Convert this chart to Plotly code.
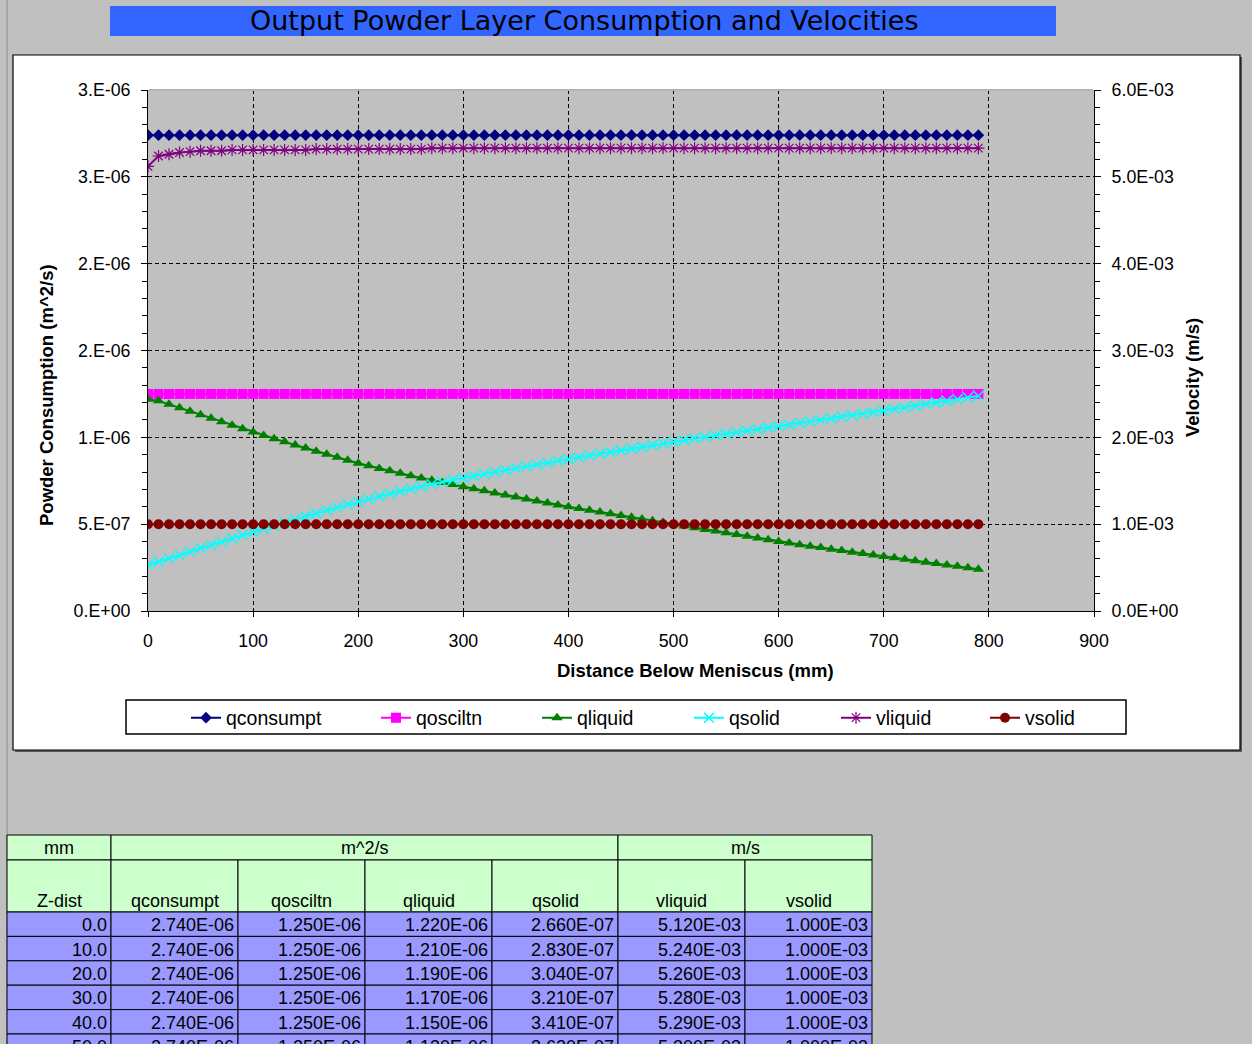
import plotly.graph_objects as go

# ---------------- data ----------------
z_dist = [0, 10, 20, 30, 40, 50, 60, 70, 80, 90,
          100, 110, 120, 130, 140, 150, 160, 170, 180, 190,
          200, 210, 220, 230, 240, 250, 260, 270, 280, 290,
          300, 310, 320, 330, 340, 350, 360, 370, 380, 390,
          400, 410, 420, 430, 440, 450, 460, 470, 480, 490,
          500, 510, 520, 530, 540, 550, 560, 570, 580, 590,
          600, 610, 620, 630, 640, 650, 660, 670, 680, 690,
          700, 710, 720, 730, 740, 750, 760, 770, 780, 790]

# values in units of 1e-6 m^2/s
qconsumpt_u = [2.74, 2.74, 2.74, 2.74, 2.74, 2.74, 2.74, 2.74, 2.74, 2.74,
               2.74, 2.74, 2.74, 2.74, 2.74, 2.74, 2.74, 2.74, 2.74, 2.74,
               2.74, 2.74, 2.74, 2.74, 2.74, 2.74, 2.74, 2.74, 2.74, 2.74,
               2.74, 2.74, 2.74, 2.74, 2.74, 2.74, 2.74, 2.74, 2.74, 2.74,
               2.74, 2.74, 2.74, 2.74, 2.74, 2.74, 2.74, 2.74, 2.74, 2.74,
               2.74, 2.74, 2.74, 2.74, 2.74, 2.74, 2.74, 2.74, 2.74, 2.74,
               2.74, 2.74, 2.74, 2.74, 2.74, 2.74, 2.74, 2.74, 2.74, 2.74,
               2.74, 2.74, 2.74, 2.74, 2.74, 2.74, 2.74, 2.74, 2.74, 2.74]
qosciltn_u = [1.25, 1.25, 1.25, 1.25, 1.25, 1.25, 1.25, 1.25, 1.25, 1.25,
              1.25, 1.25, 1.25, 1.25, 1.25, 1.25, 1.25, 1.25, 1.25, 1.25,
              1.25, 1.25, 1.25, 1.25, 1.25, 1.25, 1.25, 1.25, 1.25, 1.25,
              1.25, 1.25, 1.25, 1.25, 1.25, 1.25, 1.25, 1.25, 1.25, 1.25,
              1.25, 1.25, 1.25, 1.25, 1.25, 1.25, 1.25, 1.25, 1.25, 1.25,
              1.25, 1.25, 1.25, 1.25, 1.25, 1.25, 1.25, 1.25, 1.25, 1.25,
              1.25, 1.25, 1.25, 1.25, 1.25, 1.25, 1.25, 1.25, 1.25, 1.25,
              1.25, 1.25, 1.25, 1.25, 1.25, 1.25, 1.25, 1.25, 1.25, 1.25]
qliquid_u = [1.22, 1.21, 1.19, 1.17, 1.15, 1.13, 1.11, 1.09, 1.07, 1.05,
             1.03, 1.01, 0.992, 0.974, 0.956, 0.938, 0.920, 0.902, 0.885, 0.868,
             0.851, 0.836, 0.821, 0.807, 0.793, 0.779, 0.766, 0.753, 0.740, 0.728,
             0.716, 0.704, 0.692, 0.680, 0.668, 0.657, 0.645, 0.634, 0.622, 0.611,
             0.600, 0.590, 0.580, 0.570, 0.560, 0.550, 0.540, 0.530, 0.520, 0.510,
             0.500, 0.490, 0.480, 0.470, 0.460, 0.450, 0.440, 0.430, 0.420, 0.410,
             0.400, 0.391, 0.382, 0.373, 0.365, 0.356, 0.348, 0.339, 0.331, 0.322,
             0.314, 0.306, 0.298, 0.289, 0.281, 0.273, 0.265, 0.257, 0.249, 0.241]
qsolid_u = [0.266, 0.283, 0.304, 0.321, 0.341, 0.362, 0.380, 0.399, 0.418, 0.437,
            0.455, 0.474, 0.492, 0.510, 0.528, 0.545, 0.562, 0.579, 0.596, 0.613,
            0.629, 0.645, 0.660, 0.675, 0.690, 0.704, 0.717, 0.730, 0.743, 0.755,
            0.766, 0.778, 0.789, 0.800, 0.811, 0.822, 0.833, 0.844, 0.854, 0.865,
            0.875, 0.885, 0.895, 0.905, 0.915, 0.925, 0.935, 0.945, 0.955, 0.965,
            0.975, 0.984, 0.993, 1.002, 1.011, 1.020, 1.029, 1.038, 1.047, 1.056,
            1.064, 1.073, 1.082, 1.091, 1.100, 1.109, 1.118, 1.127, 1.136, 1.144,
            1.153, 1.163, 1.172, 1.182, 1.191, 1.200, 1.210, 1.219, 1.229, 1.238]
# values in units of 1e-3 m/s
vliquid_u = [5.12, 5.24, 5.26, 5.28, 5.29, 5.30, 5.30, 5.30, 5.31, 5.31,
             5.31, 5.31, 5.31, 5.31, 5.31, 5.31, 5.32, 5.32, 5.32, 5.32,
             5.32, 5.32, 5.32, 5.32, 5.32, 5.32, 5.32, 5.33, 5.33, 5.33,
             5.33, 5.33, 5.33, 5.33, 5.33, 5.33, 5.33, 5.33, 5.33, 5.33,
             5.33, 5.33, 5.33, 5.33, 5.33, 5.33, 5.33, 5.33, 5.33, 5.33,
             5.33, 5.33, 5.33, 5.33, 5.33, 5.33, 5.33, 5.33, 5.33, 5.33,
             5.33, 5.33, 5.33, 5.33, 5.33, 5.33, 5.33, 5.33, 5.33, 5.33,
             5.33, 5.33, 5.33, 5.33, 5.33, 5.33, 5.33, 5.33, 5.33, 5.33]
vsolid_u = [1.0, 1.0, 1.0, 1.0, 1.0, 1.0, 1.0, 1.0, 1.0, 1.0,
            1.0, 1.0, 1.0, 1.0, 1.0, 1.0, 1.0, 1.0, 1.0, 1.0,
            1.0, 1.0, 1.0, 1.0, 1.0, 1.0, 1.0, 1.0, 1.0, 1.0,
            1.0, 1.0, 1.0, 1.0, 1.0, 1.0, 1.0, 1.0, 1.0, 1.0,
            1.0, 1.0, 1.0, 1.0, 1.0, 1.0, 1.0, 1.0, 1.0, 1.0,
            1.0, 1.0, 1.0, 1.0, 1.0, 1.0, 1.0, 1.0, 1.0, 1.0,
            1.0, 1.0, 1.0, 1.0, 1.0, 1.0, 1.0, 1.0, 1.0, 1.0,
            1.0, 1.0, 1.0, 1.0, 1.0, 1.0, 1.0, 1.0, 1.0, 1.0]

qconsumpt = [v * 1e-6 for v in qconsumpt_u]
qosciltn = [v * 1e-6 for v in qosciltn_u]
qliquid = [v * 1e-6 for v in qliquid_u]
qsolid = [v * 1e-6 for v in qsolid_u]
vliquid = [v * 1e-3 for v in vliquid_u]
vsolid = [v * 1e-3 for v in vsolid_u]

x_tick_vals = [0, 100, 200, 300, 400, 500, 600, 700, 800, 900]
left_tick_vals = [0, 5e-7, 1e-6, 1.5e-6, 2e-6, 2.5e-6, 3e-6]
left_tick_text = ["0.E+00", "5.E-07", "1.E-06", "2.E-06", "2.E-06", "3.E-06", "3.E-06"]
right_tick_vals = [0, 1e-3, 2e-3, 3e-3, 4e-3, 5e-3, 6e-3]
right_tick_text = ["0.0E+00", "1.0E-03", "2.0E-03", "3.0E-03", "4.0E-03", "5.0E-03", "6.0E-03"]

series_names = ["qconsumpt", "qosciltn", "qliquid", "qsolid", "vliquid", "vsolid"]
table_unit_groups = ["mm", "m^2/s", "m/s"]
table_headers = ["Z-dist"] + series_names
table_rows_shown = 6

title_text = "Output Powder Layer Consumption and Velocities"
x_title = "Distance Below Meniscus (mm)"
y_title = "Powder Consumption (m^2/s)"
y2_title = "Velocity (m/s)"

# ---------------- layout helpers ----------------
W, H = 1252, 1044
def px(x):
    return x / W
def py(y):
    return 1 - y / H

FONT = "Liberation Sans, Arial, sans-serif"
SHEET = "#C0C0C0"

fig = go.Figure()

styles = [
    dict(color="#000080", symbol="diamond", size=9, axis="y", lw=0),
    dict(color="#FF00FF", symbol="square", size=10, axis="y", lw=0),
    dict(color="#008000", symbol="triangle-up", size=10, axis="y", lw=0),
    dict(color="#00FFFF", symbol="x-thin", size=10, axis="y", lw=1.5),
    dict(color="#800080", symbol="asterisk", size=10, axis="y2", lw=1.2),
    dict(color="#800000", symbol="circle", size=10, axis="y2", lw=0),
]
series_vals = [qconsumpt, qosciltn, qliquid, qsolid, vliquid, vsolid]
legend_x = [191, 381, 542, 694, 841, 990]

for i, (name, vals, st) in enumerate(zip(series_names, series_vals, styles)):
    mk = dict(symbol=st["symbol"], size=st["size"], color=st["color"])
    if st["lw"]:
        mk["line"] = dict(color=st["color"], width=st["lw"])
    else:
        mk["line"] = dict(width=0)
    fig.add_trace(go.Scatter(
        x=z_dist, y=vals, name=name, mode="lines+markers",
        line=dict(color=st["color"], width=2),
        marker=mk, yaxis=st["axis"], showlegend=True,
        legend="legend" if i == 0 else f"legend{i+1}",
    ))

shapes = []
annotations = []

def ann(text, x, y, font, xanchor="center", yanchor="middle", **kw):
    d = dict(text=text, xref="paper", yref="paper", x=px(x), y=py(y),
             xanchor=xanchor, yanchor=yanchor, showarrow=False, font=font)
    d.update(kw)
    annotations.append(d)

# white chart area (with a slight shadow edge)
shapes.append(dict(type="rect", xref="paper", yref="paper", layer="below",
                   x0=px(15), x1=px(1242), y0=py(752), y1=py(57),
                   fillcolor="#5a5a5a", line=dict(width=0)))
shapes.append(dict(type="rect", xref="paper", yref="paper", layer="below",
                   x0=px(13), x1=px(1240), y0=py(750), y1=py(55),
                   fillcolor="white", line=dict(color="black", width=1.2)))
# gray plot area
shapes.append(dict(type="rect", xref="paper", yref="paper", layer="below",
                   x0=px(148), x1=px(1094), y0=py(611), y1=py(90),
                   fillcolor=SHEET, line=dict(width=0)))
# hide the dashed grid line along the top edge of the plot area
shapes.append(dict(type="line", xref="paper", yref="paper", layer="above",
                   x0=px(149), x1=px(1093), y0=py(90), y1=py(90),
                   line=dict(color="#b4b4b4", width=2)))
# title bar
shapes.append(dict(type="rect", xref="paper", yref="paper", layer="below",
                   x0=px(110), x1=px(1056), y0=py(36), y1=py(6),
                   fillcolor="#3366FF", line=dict(width=0)))
ann(title_text, 584, 21, dict(family="DejaVu Sans, Verdana, sans-serif", size=27, color="black"))
# sheet left edge
shapes.append(dict(type="line", xref="paper", yref="paper", layer="below",
                   x0=px(7), x1=px(7), y0=0, y1=1, line=dict(color="#8a8a8a", width=1)))
# legend box
shapes.append(dict(type="rect", xref="paper", yref="paper", layer="below",
                   x0=px(126), x1=px(1126), y0=py(734), y1=py(700),
                   fillcolor="white", line=dict(color="black", width=1.5)))

# axis titles
tfont = dict(family=FONT, size=18.5, color="black")
ann(f"<b>{x_title}</b>", 695, 670, tfont)
ann(f"<b>{y_title}</b>", 46, 395, tfont, textangle=-90)
ann(f"<b>{y2_title}</b>", 1193, 378, tfont, textangle=-90)

# ---------------- table ----------------
col_edges = [7, 111, 238, 365, 492, 618, 745, 872]
h1_top, h1_bot, h2_bot = 835, 860, 912
row_h = 24.4
GREEN = "#CCFFCC"
BLUE = "#9999FF"
TFONT = dict(family=FONT, size=18, color="black")

def cell(x0, x1, y0, y1, fill):
    shapes.append(dict(type="rect", xref="paper", yref="paper", layer="above",
                       x0=px(x0), x1=px(x1), y0=py(y1), y1=py(y0),
                       fillcolor=fill, line=dict(color="black", width=1)))

group_spans = [(0, 1), (1, 5), (5, 7)]
for label, (a, b) in zip(table_unit_groups, group_spans):
    cell(col_edges[a], col_edges[b], h1_top, h1_bot, GREEN)
    ann(label, (col_edges[a] + col_edges[b]) / 2, 848, TFONT)
for j, label in enumerate(table_headers):
    cell(col_edges[j], col_edges[j + 1], h1_bot, h2_bot, GREEN)
    ann(label, (col_edges[j] + col_edges[j + 1]) / 2, 901, TFONT)

for r in range(table_rows_shown):
    y0 = h2_bot + r * row_h
    y1 = y0 + row_h
    values = [f"{z_dist[r]:.1f}"] + [f"{s[r]:.3E}" for s in series_vals]
    for j, txt in enumerate(values):
        cell(col_edges[j], col_edges[j + 1], y0, y1, BLUE)
        ann(txt, col_edges[j + 1] - 2, (y0 + y1) / 2 + 1, TFONT, xanchor="right")

# ---------------- axes ----------------
axis_font = dict(family=FONT, size=17.8, color="black")
grid_dash = "4px,3px"

layout = dict(
    width=W, height=H,
    margin=dict(l=0, r=0, t=0, b=0, autoexpand=False),
    paper_bgcolor=SHEET, plot_bgcolor="rgba(0,0,0,0)",
    font=dict(family=FONT, color="black"),
    showlegend=True,
    xaxis=dict(domain=[px(148), px(1094)], range=[0, 900],
               tickmode="array", tickvals=x_tick_vals,
               showgrid=True, gridcolor="black", gridwidth=1, griddash=grid_dash,
               showline=True, linecolor="black", linewidth=1,
               ticks="outside", ticklen=5, tickcolor="black",
               tickfont=axis_font, zeroline=False, ticklabelstandoff=9,
               automargin=False),
    yaxis=dict(domain=[py(611), py(90)], range=[0, 3e-6],
               tickmode="array", tickvals=left_tick_vals, ticktext=left_tick_text,
               showgrid=True, gridcolor="black", gridwidth=1, griddash=grid_dash,
               showline=True, linecolor="black", linewidth=1,
               ticks="outside", ticklen=6, tickcolor="black",
               minor=dict(tickmode="linear", tick0=0, dtick=1e-7, ticks="outside",
                          ticklen=5, tickcolor="black", showgrid=False),
               tickfont=axis_font, zeroline=False, ticklabelstandoff=7,
               automargin=False),
    yaxis2=dict(overlaying="y", side="right", anchor="x", range=[0, 6e-3],
                tickmode="array", tickvals=right_tick_vals, ticktext=right_tick_text,
                showgrid=False, showline=True, linecolor="black", linewidth=1,
                ticks="outside", ticklen=6, tickcolor="black",
                minor=dict(tickmode="linear", tick0=0, dtick=2e-4, ticks="outside",
                           ticklen=5, tickcolor="black", showgrid=False),
                tickfont=axis_font, zeroline=False, ticklabelstandoff=7,
                automargin=False),
    shapes=shapes,
    annotations=annotations,
)
for i in range(6):
    key = "legend" if i == 0 else f"legend{i+1}"
    layout[key] = dict(x=px(legend_x[i] - 5), xanchor="left", y=py(718), yanchor="middle",
                       orientation="h", bgcolor="rgba(0,0,0,0)", borderwidth=0,
                       font=dict(family=FONT, size=19.5, color="black"))
fig.update_layout(**layout)

fig.write_html("out.html", config={"displayModeBar": False},
               post_script="document.body.style.margin='0';document.body.style.overflow='hidden';")
